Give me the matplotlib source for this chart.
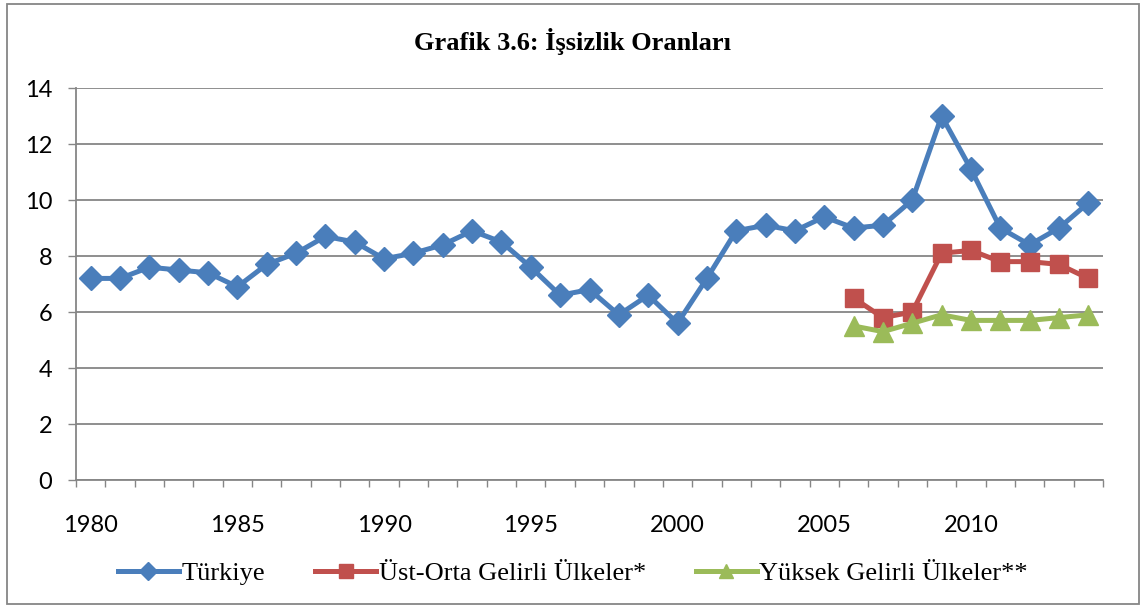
"""Grafik 3.6: İşsizlik Oranları — Excel tarzı çizgi grafik."""

import matplotlib
matplotlib.use("Agg")
import matplotlib.pyplot as plt
from matplotlib.patches import Rectangle

years = list(range(1980, 2015))
turkiye = [7.2, 7.2, 7.6, 7.5, 7.4, 6.9, 7.7, 8.1, 8.7, 8.5,
           7.9, 8.1, 8.4, 8.9, 8.5, 7.6, 6.6, 6.8, 5.9, 6.6,
           5.6, 7.2, 8.9, 9.1, 8.9, 9.4, 9.0, 9.1, 10.0, 13.0,
           11.1, 9.0, 8.4, 9.0, 9.9]
ust_years = list(range(2006, 2015))
ust_orta = [6.5, 5.8, 6.0, 8.1, 8.2, 7.8, 7.8, 7.7, 7.2]
yuksek = [5.5, 5.3, 5.6, 5.9, 5.7, 5.7, 5.7, 5.8, 5.9]
x_labels = [1980, 1985, 1990, 1995, 2000, 2005, 2010]

serif = ["Liberation Serif", "DejaVu Serif"]
sans = ["Lato", "DejaVu Sans"]
grey = "#868686"

fig = plt.figure(figsize=(11.46, 6.05), dpi=100)
ax = fig.add_axes([0.0663, 0.2066, 0.8962, 0.6479])

ax.plot(years, turkiye, color="#4A7EBB", lw=3.6, marker="D", ms=12,
        label="Türkiye")
ax.plot(ust_years, ust_orta, color="#C0504D", lw=3.6, marker="s", ms=13,
        label="Üst-Orta Gelirli Ülkeler*")
ax.plot(ust_years, yuksek, color="#9BBB59", lw=3.6, marker="^", ms=14,
        label="Yüksek Gelirli Ülkeler**")

ax.set_xlim(1979.5, 2014.5)
ax.set_ylim(0, 14)
ax.set_yticks(range(0, 15, 2))
ax.set_xticks(x_labels)
ax.set_xticks([y - 0.5 for y in range(1980, 2016)], minor=True)
ax.tick_params(axis="x", which="major", length=0, pad=25, labelsize=17)
ax.tick_params(axis="x", which="minor", length=5, width=1, color=grey,
               direction="out")
ax.tick_params(axis="y", length=6, width=1, color=grey, pad=11,
               labelsize=17)
for lab in ax.get_xticklabels() + ax.get_yticklabels():
    lab.set_family(sans)

ax.grid(axis="y", color=grey, lw=1.3)
ax.set_axisbelow(True)
for side in ("top", "right"):
    ax.spines[side].set_visible(False)
for side in ("left", "bottom"):
    ax.spines[side].set_color(grey)
    ax.spines[side].set_linewidth(1.3)

fig.text(0.5, 0.932, "Grafik 3.6: İşsizlik Oranları", ha="center",
         va="center", fontsize=19, fontweight="bold", family=serif)

fig.legend(loc="center", bbox_to_anchor=(0.5, 0.052), ncol=3, frameon=False,
           prop={"family": serif, "size": 19}, handlelength=2.3,
           handletextpad=0.1, columnspacing=1.9, markerscale=0.75)

fig.add_artist(Rectangle((7 / 1146, 1 / 605), 1132 / 1146, 600 / 605,
                         transform=fig.transFigure, fill=False,
                         edgecolor=grey, lw=1.3))

fig.savefig("out.png", dpi=100)
